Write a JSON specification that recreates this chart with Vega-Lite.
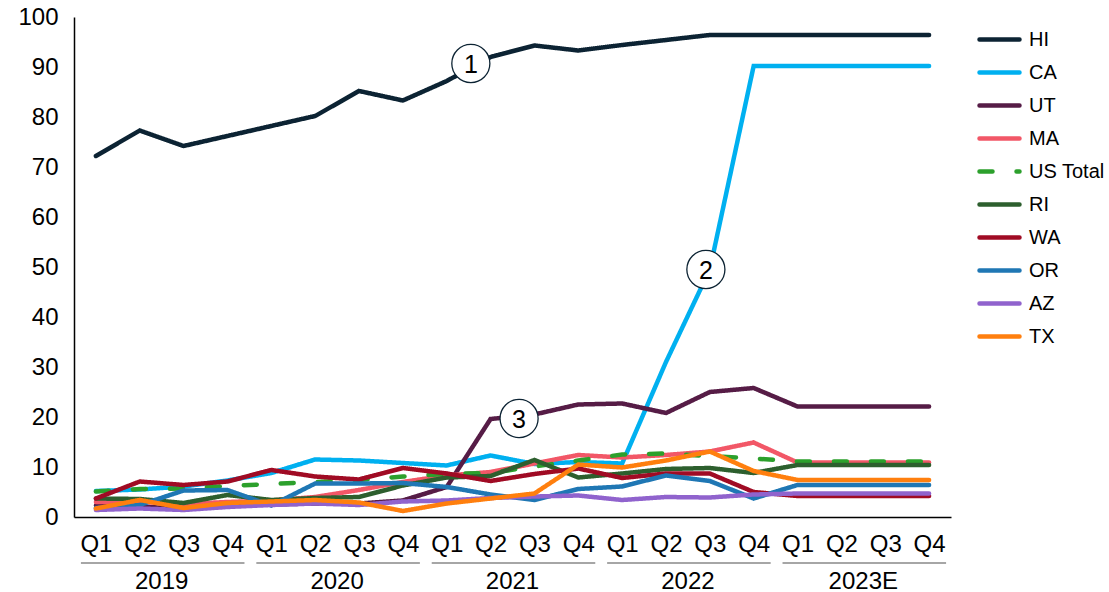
{
  "$schema": "https://vega.github.io/schema/vega-lite/v6.json",
  "width": 877,
  "height": 500,
  "autosize": {"type": "none"},
  "padding": {"left": 74, "top": 17, "right": 158, "bottom": 75},
  "background": "white",
  "config": {
    "view": {"stroke": null},
    "font": "Liberation Sans",
    "axis": {"labelFont": "Liberation Sans", "labelColor": "#000000", "domainColor": "#000000", "domainWidth": 1.5, "ticks": false, "grid": false, "title": null}
  },
  "datasets": {
    "share": [
      {"i": 0, "yr": "2019", "HI": 72.2, "CA": 5.2, "UT": 2.3, "MA": 3.0, "US Total": 5.1, "RI": 3.7, "WA": 3.7, "OR": 1.8, "AZ": 1.4, "TX": 1.7},
      {"i": 1, "yr": "2019", "HI": 77.3, "CA": 5.5, "UT": 2.0, "MA": 3.0, "US Total": 5.6, "RI": 3.6, "WA": 7.1, "OR": 2.4, "AZ": 1.7, "TX": 3.4},
      {"i": 2, "yr": "2019", "HI": 74.2, "CA": 6.1, "UT": 1.8, "MA": 2.6, "US Total": 5.7, "RI": 2.8, "WA": 6.4, "OR": 5.3, "AZ": 1.4, "TX": 1.8},
      {"i": 3, "yr": "2019", "HI": 76.2, "CA": 7.3, "UT": 2.3, "MA": 3.0, "US Total": 6.2, "RI": 4.4, "WA": 7.1, "OR": 5.4, "AZ": 2.0, "TX": 2.8},
      {"i": 4, "yr": "2020", "HI": 78.2, "CA": 8.8, "UT": 2.5, "MA": 3.3, "US Total": 6.6, "RI": 3.4, "WA": 9.4, "OR": 2.3, "AZ": 2.4, "TX": 3.1},
      {"i": 5, "yr": "2020", "HI": 80.2, "CA": 11.5, "UT": 2.7, "MA": 4.0, "US Total": 7.0, "RI": 3.8, "WA": 8.1, "OR": 6.7, "AZ": 2.7, "TX": 3.4},
      {"i": 6, "yr": "2020", "HI": 85.2, "CA": 11.3, "UT": 2.7, "MA": 5.4, "US Total": 7.4, "RI": 4.0, "WA": 7.5, "OR": 6.7, "AZ": 2.4, "TX": 2.9},
      {"i": 7, "yr": "2020", "HI": 83.3, "CA": 10.8, "UT": 3.3, "MA": 7.0, "US Total": 8.1, "RI": 6.3, "WA": 9.8, "OR": 6.8, "AZ": 3.1, "TX": 1.2},
      {"i": 8, "yr": "2021", "HI": 87.2, "CA": 10.3, "UT": 6.0, "MA": 8.3, "US Total": 8.6, "RI": 7.9, "WA": 8.7, "OR": 6.0, "AZ": 3.3, "TX": 2.7},
      {"i": 9, "yr": "2021", "HI": 92.0, "CA": 12.3, "UT": 19.6, "MA": 9.0, "US Total": 8.8, "RI": 8.2, "WA": 7.2, "OR": 4.5, "AZ": 3.8, "TX": 3.7},
      {"i": 10, "yr": "2021", "HI": 94.3, "CA": 10.6, "UT": 20.5, "MA": 10.7, "US Total": 10.1, "RI": 11.4, "WA": 8.6, "OR": 3.4, "AZ": 4.1, "TX": 4.7},
      {"i": 11, "yr": "2021", "HI": 93.3, "CA": 11.0, "UT": 22.5, "MA": 12.4, "US Total": 11.3, "RI": 7.9, "WA": 9.7, "OR": 5.6, "AZ": 4.3, "TX": 10.5},
      {"i": 12, "yr": "2022", "HI": 94.4, "CA": 10.7, "UT": 22.7, "MA": 11.9, "US Total": 12.5, "RI": 8.7, "WA": 7.8, "OR": 6.1, "AZ": 3.4, "TX": 9.9},
      {"i": 13, "yr": "2022", "HI": 95.4, "CA": 31.0, "UT": 20.8, "MA": 12.4, "US Total": 12.7, "RI": 9.6, "WA": 8.7, "OR": 8.3, "AZ": 4.0, "TX": 11.3},
      {"i": 14, "yr": "2022", "HI": 96.4, "CA": 49.5, "UT": 25.0, "MA": 13.1, "US Total": 12.2, "RI": 9.8, "WA": 8.7, "OR": 7.2, "AZ": 3.9, "TX": 13.1},
      {"i": 15, "yr": "2022", "HI": 96.4, "CA": 90.2, "UT": 25.8, "MA": 14.9, "US Total": 11.7, "RI": 8.8, "WA": 5.0, "OR": 3.7, "AZ": 4.5, "TX": 9.2},
      {"i": 16, "yr": "2023E", "HI": 96.4, "CA": 90.2, "UT": 22.1, "MA": 10.9, "US Total": 11.1, "RI": 10.4, "WA": 4.2, "OR": 6.4, "AZ": 4.7, "TX": 7.4},
      {"i": 17, "yr": "2023E", "HI": 96.4, "CA": 90.2, "UT": 22.1, "MA": 10.9, "US Total": 11.1, "RI": 10.4, "WA": 4.2, "OR": 6.4, "AZ": 4.7, "TX": 7.4},
      {"i": 18, "yr": "2023E", "HI": 96.4, "CA": 90.2, "UT": 22.1, "MA": 10.9, "US Total": 11.1, "RI": 10.4, "WA": 4.2, "OR": 6.4, "AZ": 4.7, "TX": 7.4},
      {"i": 19, "yr": "2023E", "HI": 96.4, "CA": 90.2, "UT": 22.1, "MA": 10.9, "US Total": 11.1, "RI": 10.4, "WA": 4.2, "OR": 6.4, "AZ": 4.7, "TX": 7.4}
    ],
    "notes": [
      {"label": "1", "i": 8.55, "v": 90.7},
      {"label": "2", "i": 13.91, "v": 49.5},
      {"label": "3", "i": 9.65, "v": 19.7}
    ]
  },
  "layer": [
    {
      "data": {"name": "share"},
      "transform": [{"fold": ["HI", "CA", "UT", "MA", "US Total", "RI", "WA", "OR", "AZ", "TX"], "as": ["series", "value"]}],
      "mark": {"type": "line", "strokeWidth": 4.5, "strokeCap": "round", "strokeJoin": "miter"},
      "encoding": {
        "x": {"field": "i", "type": "quantitative", "scale": {"domain": [-0.5, 19.5], "nice": false, "zero": false},
          "axis": {"values": [0,1,2,3,4,5,6,7,8,9,10,11,12,13,14,15,16,17,18,19], "labelExpr": "'Q' + (datum.value % 4 + 1)", "labelFontSize": 24, "labelPadding": 15, "labelFlush": false, "labelOverlap": false}},
        "y": {"field": "value", "type": "quantitative", "scale": {"domain": [0, 100], "nice": false},
          "axis": {"values": [0,10,20,30,40,50,60,70,80,90,100], "labelFontSize": 24, "labelPadding": 16}},
        "color": {"field": "series", "type": "nominal",
          "scale": {"domain": ["HI", "CA", "UT", "MA", "US Total", "RI", "WA", "OR", "AZ", "TX"],
            "range": ["#0c2333", "#00b0f0", "#561c46", "#f25767", "#2ca02c", "#2d5f2e", "#a00b24", "#1f77b4", "#9063cd", "#ff7f0e"]},
          "legend": {"title": null, "orient": "right", "offset": 26, "symbolType": "stroke", "symbolSize": 1600, "symbolStrokeWidth": 4.5,
            "labelFontSize": 20, "labelFont": "Liberation Sans", "labelColor": "#000000", "labelOffset": 7, "rowPadding": -6,
            "encode": {"symbols": {"update": {"strokeCap": {"value": "round"}}}}}},
        "strokeDash": {"field": "series", "type": "nominal",
          "scale": {"domain": ["HI", "CA", "UT", "MA", "US Total", "RI", "WA", "OR", "AZ", "TX"],
            "range": [[1, 0], [1, 0], [1, 0], [1, 0], [13, 24], [1, 0], [1, 0], [1, 0], [1, 0], [1, 0]]},
          "legend": {"title": null, "orient": "right", "offset": 26, "symbolType": "stroke", "symbolSize": 1600, "symbolStrokeWidth": 4.5,
            "labelFontSize": 20, "labelFont": "Liberation Sans", "labelColor": "#000000", "labelOffset": 7, "rowPadding": -6,
            "encode": {"symbols": {"update": {"strokeCap": {"value": "round"}}}}}}
      }
    },
    {
      "data": {"name": "share"},
      "transform": [{"aggregate": [{"op": "min", "field": "i", "as": "first"}, {"op": "max", "field": "i", "as": "last"}], "groupby": ["yr"]}],
      "mark": {"type": "rule", "color": "#a6a6a6", "strokeWidth": 2, "xOffset": -15, "x2Offset": 17},
      "encoding": {
        "x": {"field": "first", "type": "quantitative"},
        "x2": {"field": "last"},
        "y": {"datum": -9.2}
      }
    },
    {
      "data": {"name": "share"},
      "transform": [{"aggregate": [{"op": "mean", "field": "i", "as": "mid"}], "groupby": ["yr"]}],
      "mark": {"type": "text", "fontSize": 24, "font": "Liberation Sans", "color": "#000000", "baseline": "middle", "align": "center"},
      "encoding": {
        "x": {"field": "mid", "type": "quantitative"},
        "y": {"datum": -12.9},
        "text": {"field": "yr"}
      }
    },
    {
      "data": {"name": "notes"},
      "mark": {"type": "point", "shape": "circle", "filled": true, "fill": "#ffffff", "stroke": "#0c2333", "strokeWidth": 1.3, "size": 1450, "opacity": 1},
      "encoding": {
        "x": {"field": "i", "type": "quantitative"},
        "y": {"field": "v", "type": "quantitative"}
      }
    },
    {
      "data": {"name": "notes"},
      "mark": {"type": "text", "fontSize": 25, "font": "Liberation Sans", "color": "#000000", "baseline": "middle", "align": "center", "dy": 1},
      "encoding": {
        "x": {"field": "i", "type": "quantitative"},
        "y": {"field": "v", "type": "quantitative"},
        "text": {"field": "label"}
      }
    }
  ]
}
